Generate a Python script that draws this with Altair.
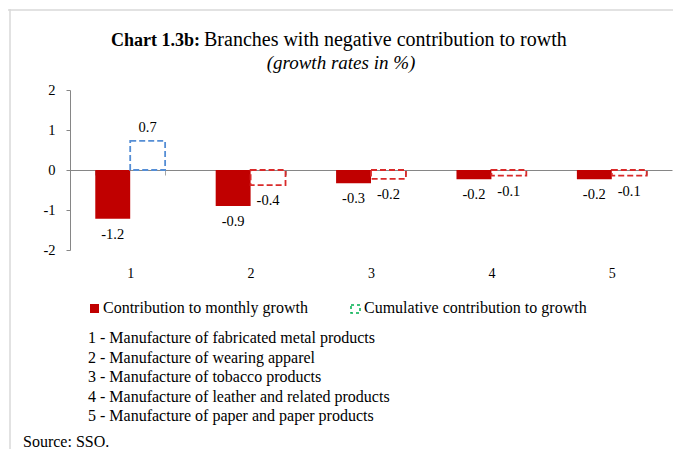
import altair as alt
import pandas as pd

categories = ["1", "2", "3", "4", "5"]
monthly = [-1.22, -0.90, -0.33, -0.23, -0.23]
cumulative = [0.73, -0.38, -0.22, -0.14, -0.14]
series_names = ["Contribution to monthly growth", "Cumulative contribution to growth"]
y_ticks = [-2, -1, 0, 1, 2]
notes = [
    "1 - Manufacture of fabricated metal products",
    "2 - Manufacture of wearing apparel",
    "3 - Manufacture of tobacco products",
    "4 - Manufacture of leather and related products",
    "5 - Manufacture of paper and paper products",
]
title_bold = "Chart 1.3b:"
title_rest = "Branches with negative contribution to rowth"
subtitle = "(growth rates in %)"
source = "Source: SSO."

FONT = "Liberation Serif"
RED = "#C00000"
DASH_RED = "#D92A2A"
DASH_BLUE = "#558ED5"
GREEN = "#00B050"
W, H = 602, 160
HYPHEN = "replace(datum.label, '\u2212', '-')"

rows = []
for c, m, k in zip(categories, monthly, cumulative):
    rows.append({"cat": c, "series": series_names[0], "value": m})
    rows.append({"cat": c, "series": series_names[1], "value": k})
df = pd.DataFrame(rows)

x_enc = alt.X(
    "cat:N", sort=categories, title=None,
    scale=alt.Scale(paddingInner=0.42, paddingOuter=0.21),
    axis=alt.Axis(orient="bottom", offset=-80, labelAngle=0, tickBand="extent",
                  tickSize=5, tickColor="#A6A6A6", domainColor="#868686",
                  labelPadding=91, labelFont=FONT, labelFontSize=14,
                  labelColor="#000000"),
)
xo_enc = alt.XOffset("series:N", sort=series_names,
                     scale=alt.Scale(domain=series_names, paddingInner=0, paddingOuter=0))
y_enc = alt.Y(
    "value:Q", title=None,
    scale=alt.Scale(domain=[-2, 2], nice=False, zero=False),
    axis=alt.Axis(values=y_ticks, grid=False, tickSize=4, tickColor="#868686",
                  domainColor="#868686", labelPadding=11, labelFont=FONT,
                  labelFontSize=14.5, labelColor="#000000", labelExpr=HYPHEN),
)

base = alt.Chart(df).encode(x=x_enc, xOffset=xo_enc, y=y_enc).transform_calculate(
    lbl="replace(format(datum.value, '.1f'), '\u2212', '-')"
)

bars = base.transform_filter(alt.datum.series == series_names[0]).mark_bar(color=RED)
dashed = base.transform_filter(alt.datum.series == series_names[1]).mark_bar(
    fillOpacity=0, strokeDash=[6, 3], strokeWidth=1.8
).encode(stroke=alt.condition(alt.datum.value > 0, alt.value(DASH_BLUE), alt.value(DASH_RED)))

lab_neg = base.transform_filter(alt.datum.value < 0).mark_text(
    font=FONT, fontSize=14.5, dy=16, baseline="middle", color="#000000"
).encode(text=alt.Text("lbl:N"))
lab_pos = base.transform_filter(alt.datum.value > 0).mark_text(
    font=FONT, fontSize=14.5, dy=-13, baseline="middle", color="#000000"
).encode(text=alt.Text("lbl:N"))

one = alt.Chart(pd.DataFrame({"k": [0]}))

frame_top = one.mark_rule(color="#D9D9D9", strokeWidth=1.5).encode(
    x=alt.value(-62), x2=alt.value(W + 20), y=alt.value(-80))
frame_left = one.mark_rule(color="#D9D9D9", strokeWidth=1.5).encode(
    x=alt.value(-60), y=alt.value(-81), y2=alt.value(H + 220))

t1 = one.mark_text(font=FONT, fontSize=18, fontWeight="bold", align="right",
                   baseline="alphabetic", color="#000000").encode(
    x=alt.value(130), y=alt.value(-44), text=alt.value(title_bold))
t2 = one.mark_text(font=FONT, fontSize=20, align="left",
                   baseline="alphabetic", color="#000000").encode(
    x=alt.value(134), y=alt.value(-44), text=alt.value(title_rest))
t3 = one.mark_text(font=FONT, fontSize=19, fontStyle="italic", align="center",
                   baseline="alphabetic", color="#000000").encode(
    x=alt.value(271), y=alt.value(-21), text=alt.value(subtitle))

leg_red = one.mark_rect(color=RED).encode(
    x=alt.value(20), x2=alt.value(29), y=alt.value(214), y2=alt.value(223))
leg_t1 = one.mark_text(font=FONT, fontSize=16, align="left", baseline="alphabetic",
                       color="#000000").encode(
    x=alt.value(33), y=alt.value(223), text=alt.value(series_names[0]))
leg_green = one.mark_rect(fillOpacity=0, stroke=GREEN, strokeWidth=1.5,
                          strokeDash=[3, 3]).encode(
    x=alt.value(281), x2=alt.value(290), y=alt.value(215), y2=alt.value(223))
leg_t2 = one.mark_text(font=FONT, fontSize=16, align="left", baseline="alphabetic",
                       color="#000000").encode(
    x=alt.value(294), y=alt.value(223), text=alt.value(series_names[1]))

notes_t = one.mark_text(font=FONT, fontSize=16, align="left", baseline="alphabetic",
                        lineHeight=19.5, color="#000000").encode(
    x=alt.value(18), y=alt.value(253), text=alt.value(notes))
src_t = one.mark_text(font=FONT, fontSize=16, align="left", baseline="alphabetic",
                      color="#000000").encode(
    x=alt.value(-47), y=alt.value(357), text=alt.value(source))

chart = alt.layer(
    frame_top, frame_left, bars, dashed, lab_neg, lab_pos,
    t1, t2, t3, leg_red, leg_t1, leg_green, leg_t2, notes_t, src_t,
).properties(
    width=W, height=H,
    padding={"left": 62, "top": 82, "right": 1, "bottom": 199},
    autosize=alt.AutoSizeParams(type="none"),
).configure_view(stroke=None)

chart.save("out.html", embed_options={"renderer": "svg", "actions": False})
